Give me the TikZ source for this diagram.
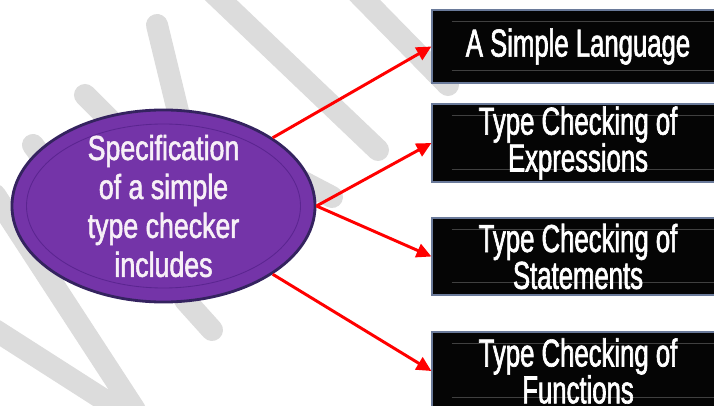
\documentclass[tikz,border=0pt]{standalone}
\usepackage{fontspec}
\usetikzlibrary{shapes.geometric,arrows.meta}

\newfontfamily\boxfont[FakeStretch=0.66,FakeBold=1.6]{Liberation Sans}
\newfontfamily\ovalfont[FakeStretch=0.77,FakeBold=1.6]{Liberation Sans}
\definecolor{ovalfill}{HTML}{7434A8}
\definecolor{ovalrim}{HTML}{34235F}
\definecolor{ovalline}{HTML}{5B2590}
\definecolor{boxrim}{HTML}{6A7A9A}
\definecolor{marks}{HTML}{DCDCDC}

\begin{document}
\begin{tikzpicture}[x=0.025cm, y=-0.025cm
        , oval/.style={ ellipse, draw=ovalrim, line width=2pt, fill=ovalfill
                      , minimum width=7.575cm, minimum height=4.8cm, inner sep=0 }
        , ovaltext/.style={ text=white!94!violet, align=center, inner sep=0
                          , font=\ovalfont\fontsize{24.7}{27.7}\selectfont }
        , topic/.style={ rectangle, draw=boxrim, line width=0.8pt, fill=black!98
                       , minimum width=7.3cm, inner sep=0, align=center, text=white
                       , font=\boxfont\fontsize{27.7}{26.2}\selectfont
                       , path picture={
                           \draw[black!75!white, line width=0.5pt]
                             ([xshift=14pt,yshift=-8pt]path picture bounding box.north west)
                             -- ([yshift=-8pt]path picture bounding box.north east)
                             ([xshift=14pt,yshift=9pt]path picture bounding box.south west)
                             -- ([yshift=9pt]path picture bounding box.south east);
                         } }
        , link/.style={ red, line width=2.1pt
                      , -{Triangle[length=10.5pt,width=10pt]} }
        ]

        \clip (0,0) rectangle (714,406);

        % watermark strokes behind everything
        \draw[marks, line width=0.55cm, line cap=round]
            (157,25) -- (185,140)
            (85,95) -- (130,140)
            (33,145) -- (70,195)
            (205,-15) -- (378,150)
            (350,-15) -- (448,85)
            (290,175) -- (332,197)
            (185,300) -- (212,330)
            (-5,195) -- (135,410)
            (-5,330) -- (120,410);

        % the central oval
        \node[oval] (spec) at (163.5,206) {};
        \draw[ovalline, line width=0.6pt] (spec.center) ellipse [x radius=137, y radius=82];
        \node[ovaltext] (spectext) at (spec.center)
            {Specification\\of a simple\\type checker\\includes};

        % the four topics on the right
        \foreach \n/\y/\h/\txt in {b1/46.5/1.825cm/{A Simple Language},
                                   b2/143/1.95cm/{Type Checking of\\Expressions},
                                   b3/256.5/1.925cm/{Type Checking of\\Statements},
                                   b4/371/1.95cm/{Type Checking of\\Functions}}
            \node[topic, minimum height=\h] (\n) at (578,\y) {\txt};

        % red connectors
        \path[link] (spec.32) edge (b1.west)
                    (spec.east) edge (b2.west)
                    (spec.east) edge (b3.west)
                    (spec.-32) edge (b4.west)
                    ;

\end{tikzpicture}
\end{document}
